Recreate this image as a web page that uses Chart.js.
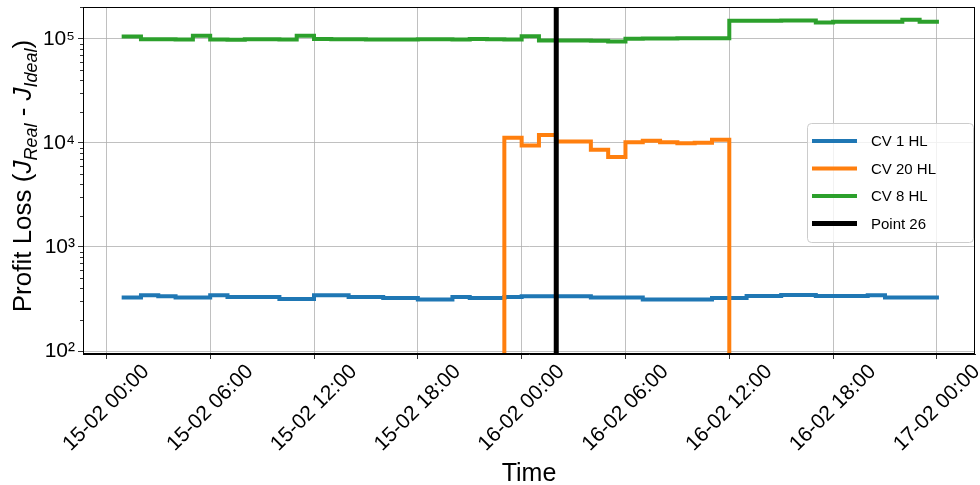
<!DOCTYPE html>
<html>
<head>
<meta charset="utf-8">
<script src="https://cdn.jsdelivr.net/npm/chart.js@4.4.1/dist/chart.umd.min.js"></script>
<style>
  html, body { margin: 0; padding: 0; background: #fff; }
  canvas { display: block; }
</style>
</head>
<body>
<canvas id="canvas1" width="980" height="485"></canvas>
<script>
// hours after 15-02 00:00, one sample per hour
const hours = [1, 2, 3, 4, 5, 6, 7, 8, 9, 10, 11, 12, 13, 14, 15, 16, 17, 18, 19, 20, 21, 22, 23, 24,
  25, 26, 27, 28, 29, 30, 31, 32, 33, 34, 35, 36, 37, 38, 39, 40, 41, 42, 43, 44, 45, 46, 47, 48];

const cv1 = [327, 343, 335, 327, 327, 343, 330, 330, 330, 316, 316, 343, 343, 330, 330, 323, 323, 313, 313, 330, 323, 323, 330, 335,
  335, 335, 335, 327, 327, 327, 312, 312, 312, 312, 323, 323, 338, 338, 345, 345, 338, 338, 338, 343, 327, 327, 327, 327];

const cv20 = [0, 0, 0, 0, 0, 0, 0, 0, 0, 0, 0, 0, 0, 0, 0, 0, 0, 0, 0, 0, 0, 0, 11170, 9420,
  11900, 10300, 10300, 8570, 7300, 10150, 10500, 10150, 9900, 10000, 10700, 0, 0, 0, 0, 0, 0, 0, 0, 0, 0, 0, 0, 0];

const cv8 = [105000, 99000, 99000, 98500, 107000, 98500, 98000, 99000, 99000, 98500, 107000, 99500, 99000, 99000, 98500, 98500,
  98500, 99000, 99000, 98500, 99500, 99000, 98500, 106000, 96500, 96500, 96500, 96000, 94000, 100000, 100500, 100500,
  101000, 101000, 101000, 149000, 149000, 149000, 149500, 150000, 143000, 146000, 146000, 146000, 146000, 152000, 146000, 146000];

const point26 = 26; // 16-02 02:00

const tickHours = [0, 6, 12, 18, 24, 30, 36, 42, 48];
const tickLabels = ["15-02 00:00", "15-02 06:00", "15-02 12:00", "15-02 18:00", "16-02 00:00",
  "16-02 06:00", "16-02 12:00", "16-02 18:00", "17-02 00:00"];

const yTicks = [100, 1000, 10000, 100000];
const yTickLabels = ["10²", "10³", "10⁴", "10⁵"];

const FONT = "'Liberation Sans', Arial, sans-serif";

function xy(vals) {
  // zero can't sit on a log axis: push it far below, like matplotlib does
  return hours.map((h, i) => ({ x: h, y: vals[i] > 0 ? vals[i] : 0.01 }));
}

// top/right spines, minor log ticks, rotated x labels, y title, legend
const extras = {
  id: "extras",
  afterDraw(chart) {
    const ctx = chart.ctx;
    const a = chart.chartArea;
    const xs = chart.scales.x;
    const ys = chart.scales.y;
    ctx.save();

    ctx.strokeStyle = "#000";
    ctx.lineWidth = 1;
    ctx.strokeRect(a.left + 0.5, a.top + 0.5, a.right - a.left - 1, a.bottom - a.top - 1);

    // minor ticks
    ctx.lineWidth = 0.8;
    yTicks.forEach(d => {
      for (let m = 2; m <= 9; m++) {
        const v = d * m;
        if (v < ys.min || v > ys.max) continue;
        const py = Math.round(ys.getPixelForValue(v)) + 0.5;
        ctx.beginPath();
        ctx.moveTo(a.left - 3, py);
        ctx.lineTo(a.left, py);
        ctx.stroke();
      }
    });

    // x tick labels, rotated 45 and centred on the tick
    ctx.fillStyle = "#000";
    ctx.font = "21px " + FONT;
    ctx.textAlign = "center";
    ctx.textBaseline = "middle";
    tickHours.forEach((h, i) => {
      const px = xs.getPixelForValue(h);
      const w = ctx.measureText(tickLabels[i]).width;
      const d = (w + 21) / (2 * Math.SQRT2);
      ctx.save();
      ctx.translate(px, a.bottom + 7 + d);
      ctx.rotate(-Math.PI / 4);
      ctx.fillText(tickLabels[i], 0, 0);
      ctx.restore();
    });

    // y title with italic subscripts
    const parts = [
      { t: "Profit Loss (", f: "26px " + FONT, dy: 0 },
      { t: "J", f: "italic 26px " + FONT, dy: 0 },
      { t: "Real", f: "italic 18px " + FONT, dy: 6 },
      { t: " - ", f: "26px " + FONT, dy: 0 },
      { t: "J", f: "italic 26px " + FONT, dy: 0 },
      { t: "Ideal", f: "italic 18px " + FONT, dy: 6 },
      { t: ")", f: "26px " + FONT, dy: 0 }
    ];
    let total = 0;
    parts.forEach(p => { ctx.font = p.f; p.w = ctx.measureText(p.t).width; total += p.w; });
    ctx.save();
    ctx.translate(31, 176);
    ctx.rotate(-Math.PI / 2);
    ctx.textAlign = "left";
    ctx.textBaseline = "alphabetic";
    let cx = -total / 2;
    parts.forEach(p => { ctx.font = p.f; ctx.fillText(p.t, cx, p.dy); cx += p.w; });
    ctx.restore();

    // legend box
    const bx = 807, by = 123, bw = 166, bh = 119;
    ctx.beginPath();
    ctx.roundRect(bx + 0.5, by + 0.5, bw, bh, 4);
    ctx.fillStyle = "rgba(255,255,255,0.8)";
    ctx.fill();
    ctx.strokeStyle = "#cccccc";
    ctx.lineWidth = 1;
    ctx.stroke();
    ctx.font = "15px " + FONT;
    ctx.textAlign = "left";
    ctx.textBaseline = "middle";
    chart.data.datasets.forEach((ds, i) => {
      const ly = 141 + i * 27.5;
      ctx.strokeStyle = ds.borderColor;
      ctx.lineWidth = ds.borderWidth;
      ctx.beginPath();
      ctx.moveTo(812, ly);
      ctx.lineTo(857, ly);
      ctx.stroke();
      ctx.fillStyle = "#000";
      ctx.fillText(ds.label, 871, ly + 1);
    });

    ctx.restore();
  }
};

window.onload = function () {
  let ctx1 = document.getElementById("canvas1").getContext("2d");
  new Chart(ctx1, {
    type: "line",
    data: {
      datasets: [
        { label: "CV 1 HL", data: xy(cv1), borderColor: "#1f77b4", borderWidth: 4, order: 4 },
        { label: "CV 20 HL", data: xy(cv20), borderColor: "#ff7f0e", borderWidth: 4, order: 3 },
        { label: "CV 8 HL", data: xy(cv8), borderColor: "#2ca02c", borderWidth: 4, order: 2 },
        {
          label: "Point 26",
          data: [{ x: point26, y: 1 }, { x: point26, y: 1e7 }],
          borderColor: "#000000", borderWidth: 5, order: 1, stepped: false
        }
      ]
    },
    options: {
      responsive: false,
      devicePixelRatio: 1,
      animation: false,
      layout: { padding: { top: 7, right: 5, left: 0, bottom: 0 } },
      elements: {
        point: { radius: 0, hoverRadius: 0 },
        line: { stepped: "before", borderCapStyle: "square", borderJoinStyle: "miter", fill: false, tension: 0 }
      },
      plugins: {
        legend: { display: false },
        tooltip: { enabled: false }
      },
      scales: {
        x: {
          type: "linear",
          min: -1.35,
          max: 50.2,
          afterBuildTicks: s => { s.ticks = tickHours.map(v => ({ value: v })); },
          afterFit: s => { s.height = 131; s.paddingLeft = 0; s.paddingRight = 0; },
          ticks: { display: false },
          grid: { color: "#b0b0b0", lineWidth: 0.8, tickColor: "#000", tickLength: 5 },
          border: { color: "#000", width: 1 },
          title: {
            display: true,
            text: "Time",
            color: "#000",
            font: { family: FONT, size: 25, lineHeight: 1 },
            padding: { top: 0, bottom: -2 }
          }
        },
        y: {
          type: "logarithmic",
          min: 93.6,
          max: 202000,
          afterBuildTicks: s => { s.ticks = yTicks.map(v => ({ value: v })); },
          afterFit: s => { s.width = 83; s.paddingTop = 0; s.paddingBottom = 0; },
          ticks: {
            autoSkip: false,
            color: "#000",
            padding: 3,
            font: { family: FONT, size: 21 },
            callback: v => yTickLabels[yTicks.indexOf(v)]
          },
          grid: { color: "#b0b0b0", lineWidth: 0.8, tickColor: "#000", tickLength: 5 },
          border: { color: "#000", width: 1 }
        }
      }
    },
    plugins: [extras]
  });
};
</script>
</body>
</html>
